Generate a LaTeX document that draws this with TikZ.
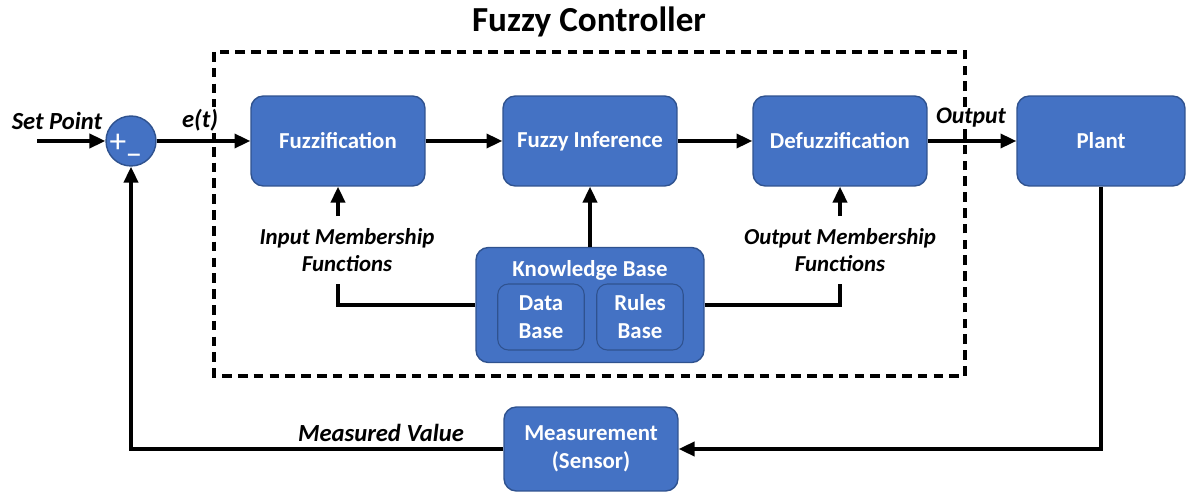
\documentclass[tikz,border=0pt]{standalone}
\usepackage{fontspec}
\setmainfont{Carlito}
\usetikzlibrary{arrows.meta}
\definecolor{blockblue}{HTML}{4472C4}
\definecolor{blockedge}{HTML}{2F528F}

\begin{document}
\begin{tikzpicture}[x=0.02cm,y=-0.02cm,
    block/.style={draw=blockedge, fill=blockblue, line width=0.8pt, rounded corners=7pt,
      text=white, align=center, font=\bfseries\fontsize{13}{16}\selectfont,
      minimum width=3.48cm, minimum height=1.8cm},
    subblock/.style={draw=blockedge, fill=blockblue, line width=0.6pt, rounded corners=6pt,
      text=white, align=center, font=\bfseries\fontsize{13}{16}\selectfont,
      minimum width=1.73cm, minimum height=1.32cm},
    lbl/.style={align=center, font=\bfseries\itshape\fontsize{14}{17}\selectfont, inner sep=1pt},
    mflbl/.style={align=center, font=\bfseries\itshape\fontsize{13}{15}\selectfont, inner sep=1pt},
    wire/.style={line width=1.9pt},
    arr/.style={wire, -{Triangle[length=9pt,width=8pt]}}
  ]
  \useasboundingbox (0,0) rectangle (1187,493);

  % controller frame and title
  \draw [line width=1.9pt, dash pattern=on 5.5pt off 3.5pt] (214,52) rectangle (965,376);
  \node [font=\bfseries\fontsize{20}{24}\selectfont] (title) at (589,22) {Fuzzy Controller};

  % summing junction
  \node [circle, draw=blockedge, fill=blockblue, line width=0.8pt, minimum size=1cm] (sum) at (131,141) {};
  \node [text=white, font=\fontsize{19}{19}\selectfont, inner sep=0pt] (plus) at (118,143) {+};
  \node [text=white, font=\fontsize{19}{19}\selectfont, inner sep=0pt] (minus) at (134,159) {\textendash};

  % blocks
  \node [block] (fuzz) at (338,141) {Fuzzification};
  \node [block] (infer) at (590,141) {Fuzzy Inference};
  \node [block] (defuzz) at (840,141) {Defuzzification};
  \node [block, minimum width=3.36cm] (plant) at (1101,141) {Plant};
  \node [block, minimum height=1.68cm] (meas) at (591,449) {Measurement\\(Sensor)};

  % knowledge base
  \node [block, minimum width=4.56cm, minimum height=2.3cm] (kb) at (590,305) {};
  \node [text=white, font=\bfseries\fontsize{13}{16}\selectfont] (kbtitle) at (590,270) {Knowledge Base};
  \node [subblock] (data) at (541,317) {Data\\Base};
  \node [subblock] (rules) at (640,317) {Rules\\Base};

  % labels
  \node [lbl] (setpt) at (57,121) {Set Point};
  \node [lbl, fill=white] (err) at (200,120) {\textit{e}(\textit{t})};
  \node [mflbl, fill=white, font=\bfseries\itshape\fontsize{13.5}{16}\selectfont] (out) at (971,118) {Output};
  \node [lbl] (meslbl) at (381,433) {Measured Value};
  \node [mflbl] (inmf) at (347,250) {Input Membership\\Functions};
  \node [mflbl] (outmf) at (840,250) {Output Membership\\Functions};

  % signal path
  \coordinate (spin) at (37,141);
  \draw [arr] (spin) -- (sum.west);
  \draw [arr] (sum.east) -- (fuzz.west);
  \draw [arr] (fuzz) -- (infer);
  \draw [arr] (infer) -- (defuzz);
  \draw [arr] (defuzz) -- (plant);

  % knowledge base links
  \draw [arr] (kb.north) -- (infer.south);
  \draw [wire] (kb.west) -| ([yshift=-6pt]inmf.south -| fuzz.south);
  \draw [arr] ([yshift=6pt]inmf.north -| fuzz.south) -- (fuzz.south);
  \draw [wire] (kb.east) -| ([yshift=-6pt]outmf.south -| defuzz.south);
  \draw [arr] ([yshift=6pt]outmf.north -| defuzz.south) -- (defuzz.south);

  % feedback
  \draw [arr] (plant.south) |- (meas.east);
  \draw [arr] (meas.west) -| (sum.south);
\end{tikzpicture}
\end{document}
